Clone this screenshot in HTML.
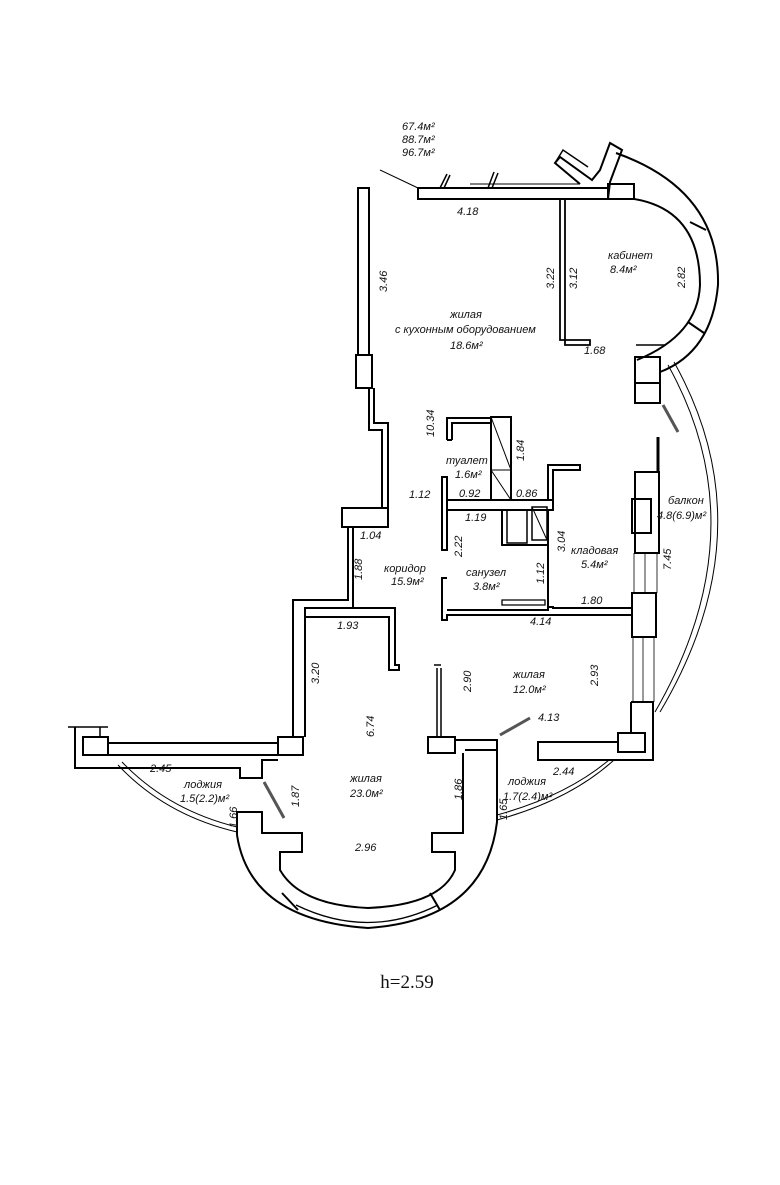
<!DOCTYPE html>
<html><head><meta charset="utf-8"><style>
html,body{margin:0;padding:0;background:#fff}
svg{display:block}
text{font-family:"Liberation Sans",sans-serif;font-style:italic;font-size:11px;fill:#111}
</style></head><body>
<svg width="780" height="1185" viewBox="0 0 780 1185" xmlns="http://www.w3.org/2000/svg">
<g fill="none" stroke="#000" stroke-width="2">
<!-- top wall -->
<rect x="418" y="188" width="190" height="11"/>
<line x1="470" y1="184" x2="580" y2="184" stroke-width="1"/>
<line x1="380" y1="170" x2="418" y2="188" stroke-width="1"/>
<path d="M440,188 L447,174 M450,175 L444,188 M488,188 L494,172 M498,173 L492,188" stroke-width="1.5"/>
<path d="M580,184 L555,163 L560,157 L592,180 L600,170 L610,143 L622,150 L610,182 L608,199"/>
<path d="M555,163 L563,150 L588,167" stroke-width="1.5"/>
<rect x="608" y="184" width="26" height="15"/>
<!-- cabinet arc -->
<path d="M616,153 Q720,190 718,285 Q712,352 660,372"/>
<path d="M634,199 Q700,210 700,285 Q698,335 637,360"/>
<line x1="690" y1="222" x2="706" y2="230"/>
<line x1="688" y1="322" x2="704" y2="333"/>
<path d="M636,345 L665,345" stroke-width="1.5"/>
<rect x="635" y="357" width="25" height="26"/>
<path d="M635,383 L635,403 L660,403 L660,372"/>
<line x1="663" y1="405" x2="678" y2="432" stroke-width="3" stroke="#555"/>
<!-- partition cabinet -->
<path d="M560,199 L560,340 L590,340 L590,345 L565,345 L565,199" stroke-width="1.8"/>
<!-- kitchen left wall -->
<rect x="358" y="188" width="11" height="167"/>
<rect x="356" y="355" width="16" height="33"/>
<path d="M369,388 L369,430 L382,430 L382,508"/>
<path d="M374,388 L374,423 L388,423 L388,508"/>
<rect x="342" y="508" width="46" height="19"/>
<!-- corridor -->
<path d="M348,527 L348,600 L293,600 L293,737"/>
<path d="M353,527 L353,608 L305,608 L305,737"/>
<path d="M305,608 L395,608 L395,665 L399,665 L399,670 L389,670 L389,617 L305,617"/>
<!-- toilet -->
<path d="M447,440 L447,418 L492,418 M452,440 L452,423 L492,423 M447,440 L452,440"/>
<rect x="491" y="417" width="20" height="83"/>
<line x1="491" y1="417" x2="511" y2="470" stroke-width="1"/>
<line x1="491" y1="470" x2="511" y2="500" stroke-width="1"/>
<line x1="491" y1="470" x2="511" y2="470" stroke-width="1"/>
<rect x="442" y="477" width="5" height="73"/>
<rect x="447" y="500" width="106" height="10"/>
<path d="M502,510 L502,545 L548,545"/>
<rect x="507" y="510" width="20" height="33" stroke-width="1.5"/>
<rect x="532" y="507" width="15" height="33" stroke-width="1.5"/>
<line x1="532" y1="507" x2="547" y2="540" stroke-width="1"/>
<path d="M548,510 L548,608 M553,510 L553,470 L580,470 L580,465 L548,465 L548,500"/>
<path d="M447,578 L442,578 L442,620 L447,620 L447,615 L632,615 M447,610 L548,610 L548,607 L553,607 L553,608 L632,608"/>
<path d="M502,600 L545,600 L545,605 L502,605 Z" stroke-width="1.3"/>
<!-- balcony column -->
<path d="M658,437 L658,472" stroke-width="3"/>
<rect x="635" y="472" width="24" height="81"/>
<rect x="632" y="499" width="19" height="34"/>
<g stroke-width="0.8"><line x1="634" y1="553" x2="634" y2="593"/><line x1="645" y1="553" x2="645" y2="593"/><line x1="657" y1="553" x2="657" y2="593"/>
<line x1="633" y1="637" x2="633" y2="702"/><line x1="643" y1="637" x2="643" y2="702"/><line x1="654" y1="637" x2="654" y2="702"/></g>
<rect x="632" y="593" width="24" height="44"/>
<path d="M631,702 L653,702 L653,760 L538,760 L538,742 L618,742"/>
<path d="M631,702 L631,733"/>
<rect x="618" y="733" width="27" height="19"/>
<!-- balcony arc -->
<path d="M668,365 Q760,530 655,712" stroke-width="1"/>
<path d="M674,362 Q768,530 660,712" stroke-width="1"/>
<!-- bottom left loggia wall -->
<path d="M68,727 L108,727 M100,727 L100,737" stroke-width="1.5"/>
<path d="M75,727 L75,768 L240,768 L240,778 L262,778 L262,760 L278,760"/>
<rect x="83" y="737" width="25" height="18"/>
<path d="M108,743 L278,743 M108,755 L278,755"/>
<rect x="278" y="737" width="25" height="18"/>
<line x1="264" y1="782" x2="284" y2="818" stroke-width="3" stroke="#555"/>
<path d="M118,765 Q165,815 237,832" stroke-width="1"/>
<path d="M122,762 Q168,810 237,827" stroke-width="1"/>
<!-- main room bottom -->
<path d="M237,835 L237,812 L262,812 L262,833 L302,833 L302,852 L280,852 L280,870 Q300,905 368,908 Q440,905 455,870 L455,852 L432,852 L432,833 L463,833 L463,753"/>
<path d="M237,835 Q250,920 368,928 Q485,920 497,822 L497,740 L457,740"/>
<path d="M296,905 Q368,940 438,905" stroke-width="1.3"/>
<line x1="282" y1="893" x2="298" y2="910"/>
<line x1="430" y1="893" x2="440" y2="910"/>
<!-- right loggia arc -->
<path d="M497,820 Q570,800 614,760" stroke-width="1"/>
<path d="M497,815 Q566,796 609,760" stroke-width="1"/>
<path d="M437,668 L437,737 M441,668 L441,737 M434,665 L441,665" stroke-width="1.5"/>
<rect x="428" y="737" width="27" height="16"/>
<path d="M455,740 L497,740 L497,750 L465,750"/>
<line x1="500" y1="735" x2="530" y2="718" stroke-width="3" stroke="#555"/>
</g>
<g>
<text x="402" y="130">67.4м²</text>
<text x="402" y="143">88.7м²</text>
<text x="402" y="156">96.7м²</text>
<text x="457" y="215">4.18</text>
<text x="608" y="259">кабинет</text>
<text x="610" y="273">8.4м²</text>
<text x="450" y="318">жилая</text>
<text x="395" y="333">с кухонным оборудованием</text>
<text x="450" y="349">18.6м²</text>
<text x="584" y="354">1.68</text>
<text x="446" y="464">туалет</text>
<text x="455" y="478">1.6м²</text>
<text x="409" y="498">1.12</text>
<text x="459" y="497">0.92</text>
<text x="516" y="497">0.86</text>
<text x="465" y="521">1.19</text>
<text x="360" y="539">1.04</text>
<text x="571" y="554">кладовая</text>
<text x="581" y="568">5.4м²</text>
<text x="668" y="504">балкон</text>
<text x="657" y="519">4.8(6.9)м²</text>
<text x="384" y="572">коридор</text>
<text x="391" y="585">15.9м²</text>
<text x="466" y="576">санузел</text>
<text x="473" y="590">3.8м²</text>
<text x="581" y="604">1.80</text>
<text x="530" y="625">4.14</text>
<text x="337" y="629">1.93</text>
<text x="513" y="678">жилая</text>
<text x="513" y="693">12.0м²</text>
<text x="538" y="721">4.13</text>
<text x="350" y="782">жилая</text>
<text x="350" y="797">23.0м²</text>
<text x="150" y="772">2.45</text>
<text x="184" y="788">лоджия</text>
<text x="180" y="802">1.5(2.2)м²</text>
<text x="508" y="785">лоджия</text>
<text x="503" y="800">1.7(2.4)м²</text>
<text x="553" y="775">2.44</text>
<text x="355" y="851">2.96</text>
<g transform="rotate(-90)">
<text x="-292" y="387">3.46</text>
<text x="-289" y="554">3.22</text>
<text x="-289" y="577">3.12</text>
<text x="-288" y="685">2.82</text>
<text x="-437" y="434">10.34</text>
<text x="-461" y="524">1.84</text>
<text x="-557" y="462">2.22</text>
<text x="-552" y="565">3.04</text>
<text x="-570" y="671">7.45</text>
<text x="-580" y="362">1.88</text>
<text x="-584" y="544">1.12</text>
<text x="-684" y="319">3.20</text>
<text x="-692" y="471">2.90</text>
<text x="-686" y="598">2.93</text>
<text x="-737" y="374">6.74</text>
<text x="-807" y="299">1.87</text>
<text x="-800" y="462">1.86</text>
<text x="-820" y="507">1.65</text>
<text x="-828" y="237">1.66</text>
</g>
<text x="407" y="988" text-anchor="middle" style="font-family:'Liberation Serif',serif;font-style:normal;font-size:19px">h=2.59</text>
</g>
</svg>
</body></html>
